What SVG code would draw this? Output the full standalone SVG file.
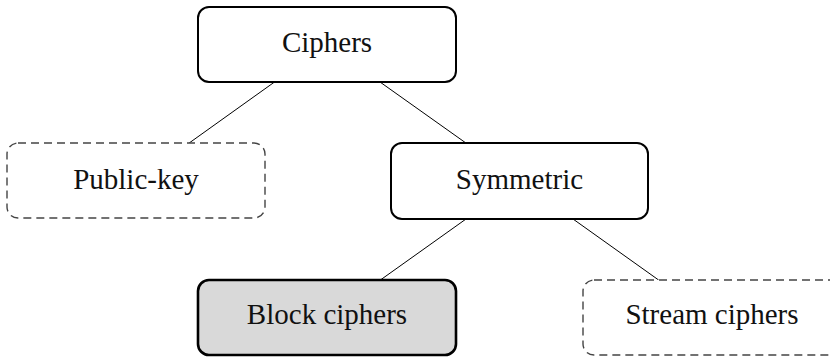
<svg xmlns="http://www.w3.org/2000/svg" width="830" height="357" viewBox="0 0 830 357">
<style>
.box{fill:#fff;stroke:#000;stroke-width:2}
.dash{fill:#fff;stroke:#444;stroke-width:1.4;stroke-dasharray:8 5}
.hl{fill:#d9d9d9;stroke:#000;stroke-width:2.6}
.lbl{font-family:"Liberation Serif","DejaVu Serif",serif;font-size:29px;fill:#111;text-anchor:middle}
.edge{stroke:#000;stroke-width:1;fill:none}
</style>
<rect width="830" height="357" fill="#fff"/>
<g id="connectors">
<line class="edge" x1="274.5" y1="82" x2="189.2" y2="143"/>
<line class="edge" x1="380" y1="82" x2="465.9" y2="143"/>
<line class="edge" x1="466" y1="219" x2="380.4" y2="280"/>
<line class="edge" x1="573" y1="219" x2="658.6" y2="280"/>
</g>
<g id="ciphers">
<rect class="box" x="198" y="7" width="258" height="75" rx="11"/>
<text class="lbl" x="327" y="52">Ciphers</text>
</g>
<g id="public-key">
<rect class="dash" x="7" y="143" width="258" height="75" rx="11"/>
<text class="lbl" x="136" y="189">Public-key</text>
</g>
<g id="symmetric">
<rect class="box" x="391" y="143" width="257" height="76" rx="11"/>
<text class="lbl" x="519.5" y="189">Symmetric</text>
</g>
<g id="block-ciphers">
<rect class="hl" x="198" y="280" width="258" height="75" rx="11"/>
<text class="lbl" x="327" y="324">Block ciphers</text>
</g>
<g id="stream-ciphers">
<rect class="dash" x="583" y="280" width="258" height="75" rx="11"/>
<text class="lbl" x="712" y="324">Stream ciphers</text>
</g>
</svg>
